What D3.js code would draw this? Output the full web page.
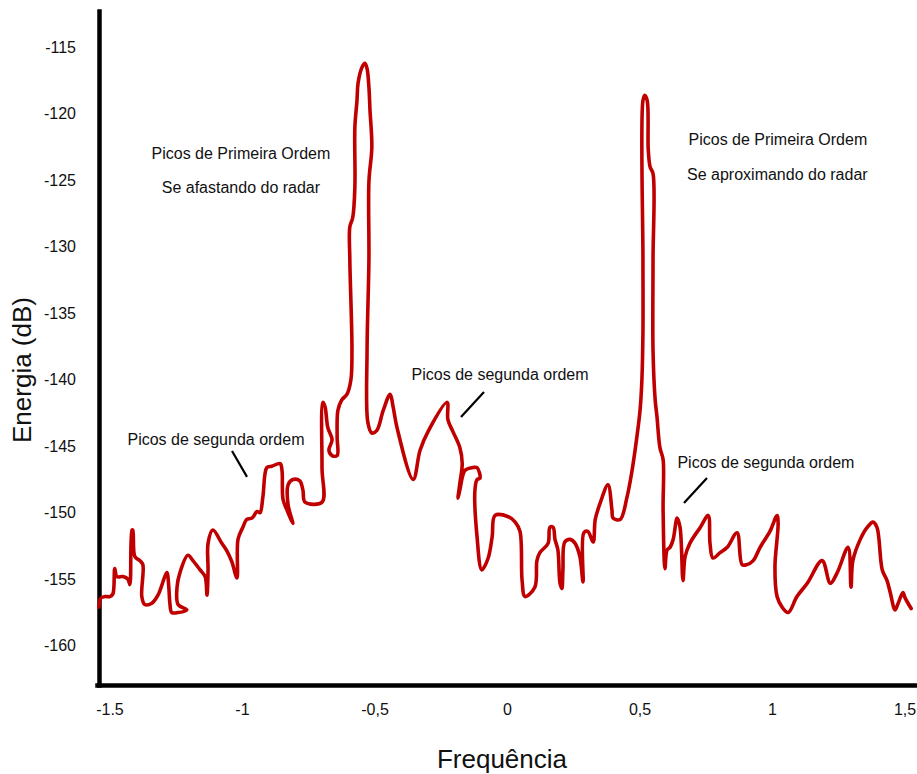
<!DOCTYPE html>
<html lang="pt">
<head>
<meta charset="utf-8">
<title>Espectro - Energia x Frequência</title>
<script src="https://cdn.jsdelivr.net/npm/d3@7"></script>
<style>
  body { margin: 0; background: #fff; font-family: "Liberation Sans", Arial, Helvetica, sans-serif; }
  .tick text { fill: #111; }
</style>
</head>
<body>
<div id="chart"></div>
<script>
// traced spectrum (hand drawn in the original, so x sometimes goes back)
const freq = [
  -1.540, -1.532, -1.517, -1.498, -1.487, -1.480, -1.472, -1.449, -1.430, -1.423,
  -1.415, -1.412, -1.404, -1.385, -1.374, -1.378, -1.367, -1.340, -1.317, -1.291,
  -1.283, -1.276, -1.272, -1.265, -1.241, -1.208, -1.241, -1.245, -1.234, -1.204,
  -1.185, -1.158, -1.139, -1.132, -1.128, -1.128, -1.110, -1.076, -1.056, -1.038,
  -1.019, -1.015, -0.997, -0.982, -0.962, -0.943, -0.932, -0.921, -0.906, -0.887,
  -0.856, -0.849, -0.845, -0.830, -0.808, -0.826, -0.826, -0.808, -0.782, -0.770,
  -0.762, -0.698, -0.698, -0.695, -0.687, -0.676, -0.660, -0.672, -0.660, -0.641,
  -0.641, -0.638, -0.623, -0.604, -0.589, -0.585, -0.593, -0.593, -0.582, -0.574,
  -0.574, -0.566, -0.562, -0.547, -0.536, -0.528, -0.521, -0.517, -0.510, -0.521,
  -0.521, -0.528, -0.525, -0.510, -0.491, -0.467, -0.441, -0.430, -0.415, -0.354,
  -0.328, -0.298, -0.226, -0.223, -0.204, -0.178, -0.169, -0.178, -0.185, -0.178,
  -0.158, -0.128, -0.113, -0.102, -0.113, -0.121, -0.113, -0.095, -0.071, -0.056,
  -0.045, 0.005, 0.031, 0.049, 0.057, 0.068, 0.105, 0.113, 0.124, 0.155,
  0.162, 0.174, 0.181, 0.192, 0.200, 0.207, 0.211, 0.218, 0.238, 0.257,
  0.275, 0.287, 0.290, 0.305, 0.325, 0.333, 0.351, 0.381, 0.396, 0.400,
  0.427, 0.453, 0.472, 0.490, 0.502, 0.509, 0.513, 0.513, 0.513, 0.520,
  0.529, 0.533, 0.540, 0.551, 0.551, 0.551, 0.559, 0.566, 0.577, 0.589,
  0.589, 0.596, 0.604, 0.615, 0.627, 0.642, 0.653, 0.664, 0.672, 0.690,
  0.729, 0.759, 0.766, 0.777, 0.804, 0.831, 0.868, 0.887, 0.905, 0.929,
  0.955, 0.992, 1.019, 1.023, 1.011, 1.019, 1.038, 1.061, 1.094, 1.133,
  1.189, 1.220, 1.246, 1.287, 1.298, 1.305, 1.333, 1.359, 1.381, 1.396,
  1.416, 1.434, 1.446, 1.464, 1.476, 1.494, 1.502, 1.525
];
const energia = [
  -157.1, -156.4, -156.3, -156.3, -156.1, -154.2, -154.8, -154.8, -155.0, -155.4,
  -151.3, -151.3, -153.3, -153.6, -153.9, -156.3, -156.9, -156.8, -156.2, -154.8,
  -154.5, -155.6, -156.8, -157.5, -157.5, -157.3, -156.9, -155.6, -154.5, -153.2,
  -153.6, -154.3, -154.8, -156.2, -154.3, -152.3, -151.3, -152.3, -152.9, -153.7,
  -154.9, -152.0, -151.1, -150.5, -150.4, -149.9, -150.0, -148.8, -146.6, -146.5,
  -146.3, -146.8, -149.0, -149.8, -150.8, -149.4, -147.9, -147.5, -147.6, -148.3,
  -149.2, -149.2, -146.6, -141.7, -142.0, -143.6, -144.5, -145.3, -145.7, -145.7,
  -144.3, -142.3, -141.5, -141.1, -140.0, -137.8, -131.0, -128.5, -127.8, -125.5,
  -121.0, -119.0, -117.7, -116.5, -116.2, -116.6, -118.0, -119.7, -122.5, -125.1,
  -131.0, -137.8, -143.2, -144.0, -143.8, -142.3, -141.1, -142.0, -143.6, -147.5,
  -145.3, -143.9, -141.7, -143.0, -143.9, -145.1, -146.3, -147.8, -148.9, -148.3,
  -146.8, -146.6, -146.6, -147.4, -147.5, -148.3, -151.8, -154.3, -153.4, -151.8,
  -150.2, -150.3, -150.7, -151.4, -155.1, -156.3, -155.6, -153.6, -153.0, -152.3,
  -151.1, -151.1, -152.0, -152.8, -155.3, -155.7, -154.3, -152.2, -152.0, -152.3,
  -153.3, -155.2, -151.5, -151.4, -152.2, -150.5, -149.3, -147.9, -149.8, -150.4,
  -150.5, -148.8, -146.8, -144.3, -142.3, -140.0, -136.3, -131.0, -119.0, -118.6,
  -119.0, -122.7, -124.0, -124.5, -131.0, -137.8, -141.5, -142.8, -145.1, -146.0,
  -149.8, -154.2, -152.8, -152.6, -152.0, -150.4, -151.1, -155.1, -153.3, -152.3,
  -151.1, -150.2, -152.3, -153.4, -153.0, -152.6, -151.5, -153.9, -153.9, -153.6,
  -152.6, -151.4, -150.2, -150.8, -154.1, -156.3, -157.1, -157.5, -156.3, -155.3,
  -153.6, -155.3, -154.5, -152.6, -155.6, -153.6, -152.0, -151.1, -150.7, -151.1,
  -154.3, -155.1, -156.0, -157.3, -156.8, -156.0, -156.4, -157.2
];

const xTicks = [-1.5, -1, -0.5, 0, 0.5, 1, 1.5];
const xTickLabels = ["-1.5", "-1", "-0,5", "0", "0,5", "1", "1,5"];
const yTicks = [-160, -155, -150, -145, -140, -135, -130, -125, -120, -115];

// annotation texts, anchored in data units (centre, baseline)
const notaTextos = ["Picos de Primeira Ordem", "Se afastando do radar",
                    "Picos de Primeira Ordem", "Se aproximando do radar",
                    "Picos de segunda ordem", "Picos de segunda ordem", "Picos de segunda ordem"];
const notaFreq = [-1.004, -1.004, 1.022, 1.020, -1.098, -0.026, 0.977];
const notaEnergia = [-123.4, -125.95, -122.35, -124.98, -144.9, -140.0, -146.6];

// little pointer strokes under the "segunda ordem" notes
const ponteiros = [
  [-1.0376, -145.35, -0.9810, -147.3],
  [-0.0868, -140.92, -0.1736, -142.8],
  [0.7546, -147.38, 0.6678, -149.26]
];

const width = 917, height = 774;

const x = d3.scaleLinear().domain([-1.547, 1.547]).range([97, 917]);
const y = d3.scaleLinear().domain([-162.95, -112.27]).range([685, 11]);

const svg = d3.select("#chart").append("svg")
  .attr("width", width)
  .attr("height", height)
  .style("display", "block");

// axes
const yAxis = d3.axisLeft(y)
  .tickValues(yTicks)
  .tickSize(0)
  .tickPadding(23)
  .tickFormat(d => String(d));

const xAxis = d3.axisBottom(x)
  .tickValues(xTicks)
  .tickSize(0)
  .tickPadding(19)
  .tickFormat((d, i) => xTickLabels[i]);

const gy = svg.append("g")
  .attr("transform", "translate(99,0)")
  .call(yAxis);

const gx = svg.append("g")
  .attr("transform", `translate(0,${y.range()[0]})`)
  .call(xAxis);

[gx, gy].forEach(g => {
  g.select(".domain")
    .attr("stroke", "#000")
    .attr("stroke-width", 4.5)
    .attr("stroke-linecap", "square");
  g.selectAll(".tick text")
    .attr("font-family", "'Liberation Sans', Arial, Helvetica, sans-serif")
    .attr("font-size", 16);
});

// spectrum line
const pontos = freq.map((f, i) => [f, energia[i]]);
const line = d3.line()
  .x(d => x(d[0]))
  .y(d => y(d[1]))
  .curve(d3.curveCatmullRom.alpha(0.5));

svg.append("path")
  .datum(pontos)
  .attr("d", line)
  .attr("fill", "none")
  .attr("stroke", "#c00000")
  .attr("stroke-width", 3.6)
  .attr("stroke-linejoin", "round")
  .attr("stroke-linecap", "round");

// annotations
svg.selectAll(".nota")
  .data(notaTextos)
  .enter()
  .append("text")
  .attr("class", "nota")
  .attr("x", (d, i) => x(notaFreq[i]))
  .attr("y", (d, i) => y(notaEnergia[i]))
  .attr("text-anchor", "middle")
  .attr("font-size", 16)
  .attr("fill", "#111")
  .text(d => d);

svg.selectAll(".ponteiro")
  .data(ponteiros)
  .enter()
  .append("line")
  .attr("class", "ponteiro")
  .attr("x1", d => x(d[0]))
  .attr("y1", d => y(d[1]))
  .attr("x2", d => x(d[2]))
  .attr("y2", d => y(d[3]))
  .attr("stroke", "#000")
  .attr("stroke-width", 2.2);

// axis titles
svg.append("text")
  .attr("x", (x.range()[0] + x.range()[1]) / 2 - 5)
  .attr("y", 768)
  .attr("text-anchor", "middle")
  .attr("font-size", 26)
  .attr("fill", "#111")
  .text("Frequência");

svg.append("text")
  .attr("transform", "translate(31,370) rotate(-90)")
  .attr("text-anchor", "middle")
  .attr("font-size", 26)
  .attr("fill", "#111")
  .text("Energia (dB)");
</script>
</body>
</html>
